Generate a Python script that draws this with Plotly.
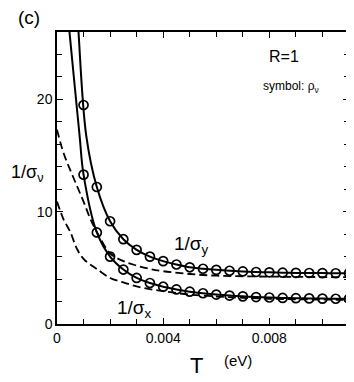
import plotly.graph_objs as go

# temperature (eV) of the symbols
T_sym = [0.001, 0.0015, 0.002, 0.0025, 0.003, 0.0035, 0.004, 0.0045, 0.005, 0.0055, 0.006,
         0.0065, 0.007, 0.0075, 0.008, 0.0085, 0.009, 0.0095, 0.01, 0.0105, 0.011]
inv_rho_y = [19.5, 12.2, 9.15, 7.55, 6.6, 6.0, 5.6, 5.3, 5.05, 4.92, 4.82,
             4.74, 4.68, 4.63, 4.6, 4.57, 4.55, 4.54, 4.53, 4.52, 4.52]
inv_rho_x = [13.3, 8.15, 6.0, 4.85, 4.1, 3.65, 3.32, 3.08, 2.88, 2.74, 2.62,
             2.53, 2.46, 2.4, 2.36, 2.32, 2.3, 2.28, 2.26, 2.25, 2.24]

T_sy = [0.0007, 0.00081, 0.0011] + T_sym[1:]
inv_sy = [30.5, 26.0, 16.8] + inv_rho_y[1:]
T_sx = [0.0004, 0.00047, 0.00085] + T_sym
inv_sx = [27.8, 26.0, 16.8] + inv_rho_x

# dashed curves
T_dash = [0, 0.00025, 0.0005, 0.00075, 0.001, 0.00125, 0.0015, 0.002, 0.0025, 0.003,
          0.0035, 0.004, 0.005, 0.006, 0.007, 0.008, 0.009, 0.01, 0.011]
dash_y = [17.3, 15.2, 13.7, 12.3, 10.9, 9.4, 8.2, 6.3, 5.6, 5.2,
          4.9, 4.7, 4.45, 4.3, 4.25, 4.22, 4.2, 4.18, 4.17]
dash_x = [10.9, 9.3, 8.2, 6.7, 5.8, 5.3, 4.9, 4.1, 3.7, 3.35,
          3.1, 2.92, 2.62, 2.45, 2.33, 2.25, 2.2, 2.17, 2.15]

fnt = "Liberation Sans, Arial, sans-serif"

data = [
    go.Scatter(x=T_dash, y=dash_y, mode="lines", line=dict(color="black", width=1.8, dash="8px,4px", shape="spline")),
    go.Scatter(x=T_dash, y=dash_x, mode="lines", line=dict(color="black", width=1.8, dash="8px,4px", shape="spline")),
    go.Scatter(x=T_sy, y=inv_sy, mode="lines", line=dict(color="black", width=2, shape="spline")),
    go.Scatter(x=T_sx, y=inv_sx, mode="lines", line=dict(color="black", width=2, shape="spline")),
    go.Scatter(x=T_sym, y=inv_rho_y, mode="markers", cliponaxis=False,
               marker=dict(symbol="circle-open", size=9, color="black", line=dict(width=1.7))),
    go.Scatter(x=T_sym, y=inv_rho_x, mode="markers", cliponaxis=False,
               marker=dict(symbol="circle-open", size=9, color="black", line=dict(width=1.7))),
]

ax = dict(showgrid=False, zeroline=False, showline=True, linecolor="black", linewidth=1.5,
          mirror="allticks", ticks="inside", ticklen=6, tickcolor="black", tickwidth=1.2,
          automargin=False, tickfont=dict(family=fnt, size=14, color="black"))


def lbl(text, x, y, size, xanchor="center"):
    return dict(text=text, x=x, y=y, xref="paper", yref="paper", showarrow=False,
                xanchor=xanchor, yanchor="middle", font=dict(family=fnt, size=size, color="black"))


# page body adds an 8px offset, so the figure is 8px smaller on each side
layout = go.Layout(
    width=346, height=374,
    margin=dict(l=49, r=5, t=24, b=58),
    paper_bgcolor="white", plot_bgcolor="white",
    showlegend=False,
    font=dict(family=fnt, color="black"),
    xaxis=dict(ax, range=[0, 0.011], tickvals=[0, 0.004, 0.008], ticktext=["0", "0.004", "0.008"],
               minor=dict(dtick=0.001, tick0=0, ticks="inside", ticklen=5, tickcolor="black")),
    yaxis=dict(ax, range=[0, 26], tickvals=[0, 10, 20], ticktext=["0", "10", "20"],
               minor=dict(dtick=2, tick0=0, ticks="inside", ticklen=5, tickcolor="black")),
    annotations=[
        lbl("(c)", -0.097, 1.048, 19),
        lbl("1/σ<sub>ν</sub>", -0.165, 0.515, 18, xanchor="left"),
        lbl("T", 0.479, -0.143, 22),
        lbl("(eV)", 0.62, -0.124, 15),
        lbl("R=1", 0.777, 0.917, 16),
        lbl("symbol: ρ<sub>ν</sub>", 0.80, 0.812, 12),
        lbl("1/σ<sub>y</sub>", 0.462, 0.27, 19),
        lbl("1/σ<sub>x</sub>", 0.267, 0.05, 19),
    ],
)

fig = go.Figure(data=data, layout=layout)
fig.write_html("out.html")
